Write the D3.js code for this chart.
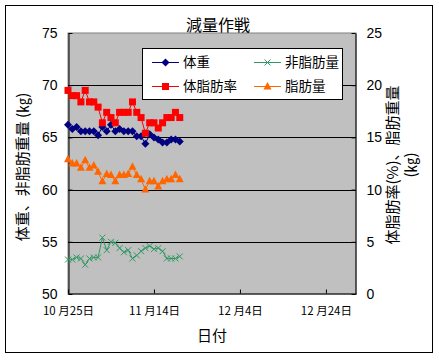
<!DOCTYPE html>
<html><head><meta charset="utf-8">
<script src="https://cdn.jsdelivr.net/npm/d3@7"></script>
<style>body{margin:0;background:#fff;}</style>
</head><body>
<script>
const startDate = "2023-10-25";
const weight = [66.2,65.8,66.0,65.6,65.6,65.6,65.6,65.2,66.0,65.6,66.2,65.6,65.8,65.6,65.6,65.6,65.1,65.1,64.4,65.3,65.0,64.8,64.5,64.5,64.8,64.8,64.6];
const leanMass = [53.3,53.3,53.5,53.4,52.8,53.4,53.5,53.5,55.4,54.2,55.0,54.9,54.4,54.0,54.2,53.4,53.7,54.1,54.4,54.6,54.3,54.4,54.1,53.4,53.4,53.4,53.6];
const fatPct = [19.5,19.0,19.0,18.4,19.5,18.4,18.4,17.9,16.4,17.4,16.9,16.4,17.4,17.4,17.4,18.4,17.4,16.9,15.4,16.4,16.4,15.9,16.4,16.9,16.9,17.4,16.9];
const fatMass = [12.9,12.5,12.5,12.1,12.8,12.1,12.3,11.7,10.8,11.5,11.4,10.8,11.4,11.4,11.5,12.2,11.4,11.0,10.0,10.8,10.8,10.3,10.8,11.0,11.0,11.4,11.0];
const leftTicks = [50,55,60,65,70,75];
const rightTicks = [0,5,10,15,20,25];
const xTickDates = ["2023-10-25","2023-11-14","2023-12-04","2023-12-24"];
const xTickLabels = ["10 月25日","11 月14日","12 月4日","12 月24日"];
const seriesNames = ["体重","非脂肪量","体脂肪率","脂肪量"];

const W=439,H=360;
const svg=d3.select("body").append("svg").attr("width",W).attr("height",H);
const jp='"Noto Sans CJK JP","Noto Sans",sans-serif';
const num='"Liberation Sans",Arial,sans-serif';
const m={l:68,r:356,t:33,b:294};
const parse=d3.utcParse("%Y-%m-%d");
const t0=parse(startDate);
const dates=weight.map((d,i)=>d3.utcDay.offset(t0,i));
const x=d3.scaleUtc().domain([t0,parse("2023-12-31")]).range([m.l,m.r]);
const yL=d3.scaleLinear().domain([50,75]).range([m.b,m.t]);
const yR=d3.scaleLinear().domain([0,25]).range([m.b,m.t]);

svg.append("rect").attr("x",5.5).attr("y",5.5).attr("width",427).attr("height",347).attr("fill","#fff").attr("stroke","#000");
svg.append("rect").attr("x",m.l).attr("y",m.t).attr("width",m.r-m.l).attr("height",m.b-m.t).attr("fill","#C0C0C0").attr("stroke","#808080");

// gridlines
svg.append("g").selectAll("line").data(leftTicks.slice(1,-1)).join("line")
  .attr("x1",m.l).attr("x2",m.r).attr("y1",d=>Math.round(yL(d))+0.5).attr("y2",d=>Math.round(yL(d))+0.5).attr("stroke","#000");

// axes
const axL=d3.axisLeft(yL).tickValues(leftTicks).tickSizeInner(-4).tickSizeOuter(0).tickPadding(11);
const gL=svg.append("g").attr("transform",`translate(${m.l+0.5},0)`).call(axL);
const axR=d3.axisRight(yR).tickValues(rightTicks).tickSizeInner(-4).tickSizeOuter(0).tickPadding(11);
const gR=svg.append("g").attr("transform",`translate(${m.r-0.5},0)`).call(axR);
const axB=d3.axisBottom(x).tickValues(xTickDates.map(parse)).tickFormat((d,i)=>xTickLabels[i]).tickSizeInner(-4).tickSizeOuter(0).tickPadding(13);
const gB=svg.append("g").attr("transform",`translate(0,${m.b-0.5})`).call(axB);
[gL,gR,gB].forEach(g=>{g.select(".domain").attr("stroke","#000");g.selectAll(".tick line").attr("stroke","#000");
  g.selectAll("text").attr("fill","#000");});
gL.selectAll("text").attr("font-family",num).attr("font-size",14);
gR.selectAll("text").attr("font-family",num).attr("font-size",14);
gB.selectAll("text").attr("font-family",jp).attr("font-size",11.5);

// lines
function drawSeries(vals,scale,color,marker){
  const line=d3.line().x((d,i)=>x(dates[i])).y(d=>scale(d));
  svg.append("path").attr("d",line(vals)).attr("fill","none").attr("stroke",color).attr("stroke-width",1);
  const g=svg.append("g");
  vals.forEach((v,i)=>drawMarker(g,x(dates[i]),scale(v),color,marker));
}
function drawMarker(g,cx,cy,color,marker){
  if(marker==="diamond") g.append("path").attr("d",`M${cx},${cy-4}L${cx+4},${cy}L${cx},${cy+4}L${cx-4},${cy}Z`).attr("fill",color);
  else if(marker==="square") g.append("rect").attr("x",cx-3.5).attr("y",cy-3.5).attr("width",7).attr("height",7).attr("fill",color);
  else if(marker==="tri") g.append("path").attr("d",`M${cx},${cy-4.5}L${cx+4},${cy+3}L${cx-4},${cy+3}Z`).attr("fill",color);
  else if(marker==="x") g.append("path").attr("d",`M${cx-3},${cy-3}L${cx+3},${cy+3}M${cx-3},${cy+3}L${cx+3},${cy-3}`).attr("stroke",color).attr("stroke-width",1);
}
drawSeries(weight,yL,"#000080","diamond");
drawSeries(leanMass,yL,"#339966","x");
drawSeries(fatPct,yR,"#FF0000","square");
drawSeries(fatMass,yR,"#FF6600","tri");

// titles
svg.append("text").attr("x",218).attr("y",31).attr("text-anchor","middle").attr("font-family",jp).attr("font-size",16).text("減量作戦");
svg.append("text").attr("x",212).attr("y",341).attr("text-anchor","middle").attr("font-family",jp).attr("font-size",15).text("日付");
svg.append("text").attr("transform","translate(28,167) rotate(-90)").attr("text-anchor","middle").attr("font-family",jp).attr("font-size",15).text("体重、非脂肪重量 (㎏)");
const rt=svg.append("text").attr("transform","translate(398,165) rotate(-90)").attr("text-anchor","middle").attr("font-family",jp).attr("font-size",15);
rt.append("tspan").attr("x",0).attr("dy",0).text("体脂肪率(%)、脂肪重量");
rt.append("tspan").attr("x",0).attr("dy",18).text("(㎏)");

// legend
const lg=svg.append("g");
lg.append("rect").attr("x",142.5).attr("y",48.5).attr("width",200).attr("height",51).attr("fill","#fff").attr("stroke","#000");
const items=[{n:seriesNames[0],c:"#000080",m:"diamond",x:152,y:62},{n:seriesNames[1],c:"#339966",m:"x",x:254,y:62},
 {n:seriesNames[2],c:"#FF0000",m:"square",x:152,y:86},{n:seriesNames[3],c:"#FF6600",m:"tri",x:254,y:86}];
items.forEach(it=>{
  lg.append("line").attr("x1",it.x).attr("x2",it.x+27).attr("y1",it.y+0.5).attr("y2",it.y+0.5).attr("stroke",it.c);
  drawMarker(lg,it.x+13.5,it.y+0.5,it.c,it.m);
  lg.append("text").attr("x",it.x+31).attr("y",it.y+5).attr("font-family",jp).attr("font-size",13.5).text(it.n);
});
</script>
</body></html>
